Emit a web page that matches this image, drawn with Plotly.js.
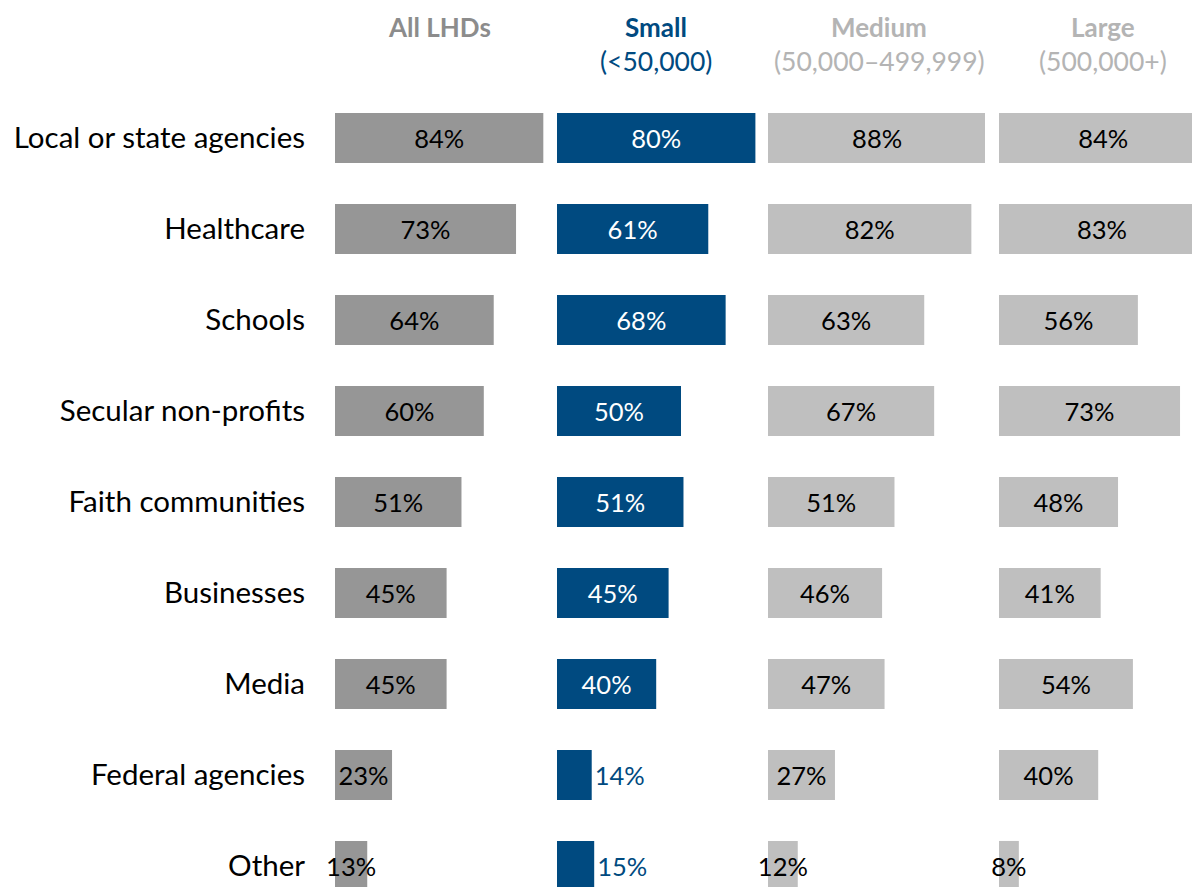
<!DOCTYPE html>
<html>
<head>
<meta charset="utf-8">
<script src="https://cdn.plot.ly/plotly-3.0.1.min.js"></script>
<style>
  html, body { margin: 0; padding: 0; background: #fff; }
  #chart { width: 1192px; height: 887px; }
</style>
</head>
<body>
<div id="chart"></div>
<script>
// partner types, top to bottom
let categories = ["Local or state agencies", "Healthcare", "Schools", "Secular non-profits",
    "Faith communities", "Businesses", "Media", "Federal agencies", "Other"];

// percent of LHDs, by jurisdiction size
let allLHDs = [84, 73, 64, 60, 51, 45, 45, 23, 13];
let small = [80, 61, 68, 50, 51, 45, 40, 14, 15];
let medium = [88, 82, 63, 67, 51, 46, 47, 27, 12];
let large = [84, 83, 56, 73, 48, 41, 54, 40, 8];

let W = 1192, H = 887;
let pxPerPct = 2.48;
let font = "Lato, 'Open Sans', sans-serif";
let blue = "#004a80";

// panel edges in pixels: [domain start, bar base, domain end]
let panels = [[335, 335, 549], [557, 557, 760], [768, 768, 990], [985, 999, 1192]];

function axis(i) {
    let p = panels[i];
    return {
        domain: [p[0] / W, p[2] / W],
        range: [(p[0] - p[1]) / pxPerPct, (p[2] - p[1]) / pxPerPct],
        showgrid: false, zeroline: false, showticklabels: false,
        showline: false, fixedrange: true
    };
}

function barTrace(values, xa, color, textColor, pos, clip) {
    return {
        type: "bar",
        orientation: "h",
        y: categories,
        x: values,
        xaxis: xa,
        yaxis: "y",
        marker: { color: color },
        text: values.map(v => v + "%"),
        textposition: pos,
        textangle: 0,
        constraintext: "none",
        insidetextanchor: "middle",
        cliponaxis: clip,
        insidetextfont: { family: font, size: 25.5, color: textColor },
        outsidetextfont: { family: font, size: 25.5, color: blue },
        hoverinfo: "x+y",
        showlegend: false
    };
}

let data = [
    barTrace(allLHDs, "x", "#969696", "#000", "inside", false),
    barTrace(small, "x2", blue, "#fff", "auto", false),
    barTrace(medium, "x3", "#bfbfbf", "#000", "inside", false),
    // large bars run past the right edge, so keep them clipped
    barTrace(large, "x4", "#bfbfbf", "#000", "inside", true)
];

// header annotations
function header(x, y, txt, color, bold) {
    return {
        xref: "paper", yref: "paper",
        x: x / W, y: 1 - y / H,
        text: bold ? "<b>" + txt + "</b>" : txt,
        showarrow: false,
        xanchor: "center", yanchor: "middle",
        font: { family: font, size: bold ? 26 : 26.5, color: color }
    };
}

let layout = {
    width: W,
    height: H,
    margin: { l: 0, r: 0, t: 0, b: 0 },
    paper_bgcolor: "#fff",
    plot_bgcolor: "#fff",
    bargap: 0.45,
    xaxis: axis(0),
    xaxis2: axis(1),
    xaxis3: axis(2),
    xaxis4: axis(3),
    yaxis: {
        type: "category",
        anchor: "x",
        range: [8.231, -1.516],
        showgrid: false, zeroline: false, showline: false,
        ticks: "",
        ticklabelstandoff: 29,
        tickfont: { family: font, size: 29.5, color: "#000" },
        fixedrange: true
    },
    annotations: [
        header(439, 27, "All LHDs", "#8c8c8c", true),
        header(656, 27, "Small", blue, true),
        header(656, 61, "(&lt;50,000)", blue, false),
        header(879, 27, "Medium", "#b4b4b4", true),
        header(879, 61, "(50,000–499,999)", "#b4b4b4", false),
        header(1103, 27, "Large", "#b4b4b4", true),
        header(1103, 61, "(500,000+)", "#b4b4b4", false)
    ]
};

Plotly.newPlot("chart", data, layout, { displayModeBar: false, staticPlot: true });
</script>
</body>
</html>
